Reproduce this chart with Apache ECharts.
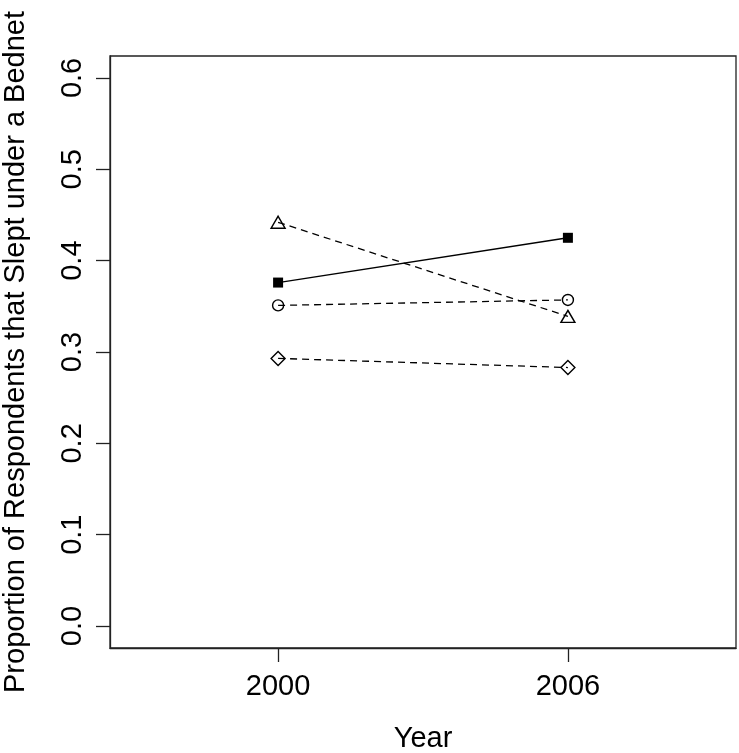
<!DOCTYPE html>
<html>
<head>
<meta charset="utf-8">
<script src="https://cdn.jsdelivr.net/npm/echarts@6/dist/echarts.min.js"></script>
<style>html,body{margin:0;padding:0;background:#fff}#c{width:739px;height:753px}</style>
</head>
<body>
<div id="c"></div>
<script>
var years = [2000, 2006];
var seriesSquare = [0.376, 0.425];
var seriesTriangle = [0.442, 0.339];
var seriesCircle = [0.351, 0.357];
var seriesDiamond = [0.293, 0.283];
var yTicks = [0, 0.1, 0.2, 0.3, 0.4, 0.5, 0.6];
var xTicks = [2000, 2006];

function pairs(vals) { return years.map(function (y, i) { return [y, vals[i]]; }); }

var FONT = 'Liberation Sans';
var FS = 29;
var AX = '#222';
var dashed = { color: '#000', width: 1.3, type: [7, 5] };
var openItem = { color: 'rgba(0,0,0,0)', borderColor: '#000', borderWidth: 1.4 };

var chart = echarts.init(document.getElementById('c'), null, { renderer: 'canvas' });
chart.setOption({
  animation: false,
  backgroundColor: '#fff',
  grid: { left: 110, right: 3, top: 56, bottom: 105, outerBoundsMode: 'none', containLabel: false, show: true, borderColor: AX, borderWidth: 1.3, backgroundColor: 'transparent' },
  xAxis: {
    type: 'value', position: 'bottom', min: 1996.52, max: 2009.48,
    name: 'Year', nameLocation: 'middle', nameGap: 76,
    nameTextStyle: { fontFamily: FONT, fontSize: FS, color: '#000' },
    axisLine: { show: true, onZero: false, lineStyle: { color: AX, width: 1.3 } },
    splitLine: { show: false },
    axisTick: { show: true, inside: false, length: 14, customValues: xTicks, lineStyle: { color: AX, width: 1.3 } },
    axisLabel: { customValues: xTicks, margin: 24, fontFamily: FONT, fontSize: FS, color: '#000', formatter: function (v) { return String(v); } }
  },
  yAxis: {
    type: 'value', position: 'left', min: -0.024, max: 0.624,
    name: 'Proportion of Respondents that Slept under a Bednet', nameLocation: 'middle', nameGap: 80, nameRotate: 90,
    nameTextStyle: { fontFamily: FONT, fontSize: FS, color: '#000' },
    axisLine: { show: true, onZero: false, lineStyle: { color: AX, width: 1.3 } },
    splitLine: { show: false },
    axisTick: { show: true, inside: false, length: 14, customValues: yTicks, lineStyle: { color: AX, width: 1.3 } },
    axisLabel: { customValues: yTicks, rotate: 90, margin: 23, fontFamily: FONT, fontSize: FS, color: '#000', formatter: function (v) { return v.toFixed(1); } }
  },
  series: [
    { type: 'line', data: pairs(seriesSquare), symbol: 'rect', symbolSize: 10, lineStyle: { color: '#000', width: 1.4, type: 'solid' }, itemStyle: { color: '#000' } },
    { type: 'line', data: pairs(seriesTriangle), symbol: 'triangle', symbolSize: [14, 12], lineStyle: dashed, itemStyle: openItem },
    { type: 'line', data: pairs(seriesCircle), symbol: 'circle', symbolSize: 11, lineStyle: dashed, itemStyle: openItem },
    { type: 'line', data: pairs(seriesDiamond), symbol: 'diamond', symbolSize: [14, 14], lineStyle: dashed, itemStyle: openItem }
  ]
});
</script>
</body>
</html>
